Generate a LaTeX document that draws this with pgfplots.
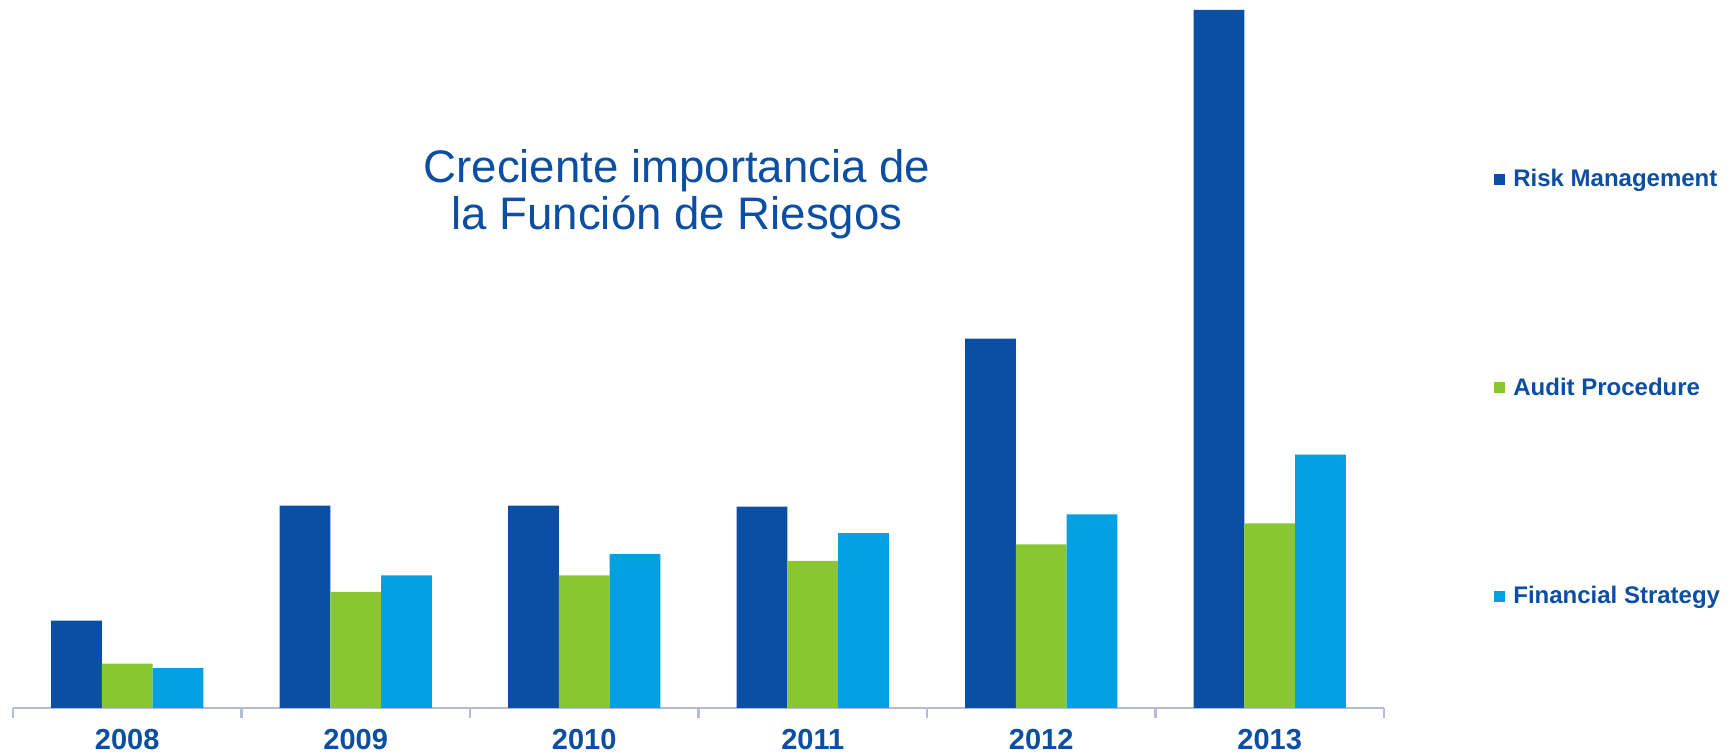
\documentclass[border=0pt]{standalone}
\usepackage{fontspec}
\setmainfont{Liberation Sans}
\usepackage{pgfplots}
\pgfplotsset{compat=1.18}
\definecolor{rmblue}{HTML}{0A4FA3}
\definecolor{apgreen}{HTML}{89C731}
\definecolor{fscyan}{HTML}{00A0E3}
\definecolor{txtblue}{HTML}{0B4EA2}
\definecolor{axgray}{HTML}{B3BBD9}
\begin{document}
\begin{tikzpicture}
\useasboundingbox (0,0) rectangle (867.5pt,377pt);
\begin{axis}[
  at={(6.5pt,23pt)}, anchor=south west,
  width=685.5pt, height=349pt, scale only axis,
  xmin=-0.5, xmax=5.5, ymin=0, ymax=631,
  clip=false,
  ybar=0pt, bar width=25.4pt,
  axis x line=bottom, axis y line=none,
  x axis line style={-, draw=axgray, line width=1.2pt},
  xtick={0,1,2,3,4,5},
  xticklabels={2008,2009,2010,2011,2012,2013},
  major tick length=0pt,
  extra x ticks={-0.5,0.5,1.5,2.5,3.5,4.5,5.5},
  extra x tick labels={},
  extra x tick style={tick align=outside, major tick length=5pt,
     tick style={draw=axgray, line width=1.2pt}},
  xticklabel style={anchor=base, yshift=-21pt, font=\fontsize{14.5}{17}\selectfont\bfseries, text=txtblue},
  legend style={at={(1.0802,0.778)}, anchor=north west, draw=none, fill=none,
     row sep=90pt, font=\fontsize{12}{14}\selectfont\bfseries, text=txtblue,
     inner sep=0pt, column sep=0pt},
  legend cell align=left,
  legend image code/.code={\fill[#1,draw=none] (0pt,-2.75pt) rectangle (5.5pt,2.75pt); \path (7.5pt,0pt);},
]
\addplot[fill=rmblue, draw=none] coordinates {(0,79) (1,183) (2,183) (3,182) (4,334) (5,631)};
\addplot[fill=apgreen, draw=none] coordinates {(0,40) (1,105) (2,120) (3,133) (4,148) (5,167)};
\addplot[fill=fscyan, draw=none] coordinates {(0,36) (1,120) (2,139) (3,158) (4,175) (5,229)};
\legend{Risk Management, Audit Procedure, Financial Strategy}
\end{axis}
\node[anchor=base, text=txtblue, font=\fontsize{22.8}{27}\selectfont] at (338.5pt,285.5pt) {Creciente importancia de};
\node[anchor=base, text=txtblue, font=\fontsize{22.8}{27}\selectfont] at (338.5pt,262pt) {la Función de Riesgos};
\end{tikzpicture}
\end{document}
